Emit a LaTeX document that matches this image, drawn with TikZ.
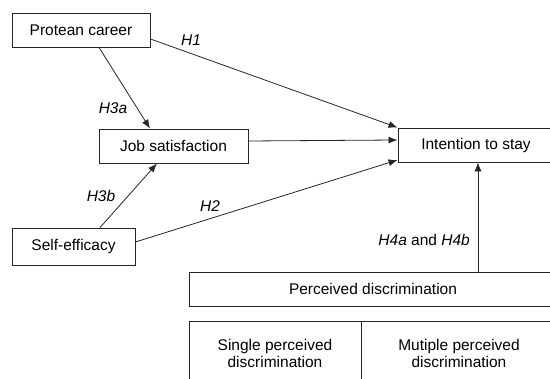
\documentclass[tikz,border=0pt]{standalone}
\usepackage{fontspec}
\setmainfont{Liberation Sans}
\usetikzlibrary{arrows.meta,calc}
\begin{document}
\begin{tikzpicture}[x=1pt,y=-1pt,
  box/.style={draw=black!85,line width=0.9pt,inner sep=0pt,font=\fontsize{15.5}{18}\selectfont,align=center},
  arr/.style={draw=black!85,line width=0.8pt,-{Latex[length=9pt,width=7pt]}},
  lab/.style={font=\fontsize{15.5}{18}\selectfont\itshape,inner sep=0pt}]
\useasboundingbox (0,0) rectangle (550,379);
\node[box,minimum width=138pt,minimum height=34pt] (pc) at (81,30) {Protean career};
\node[box,minimum width=149pt,minimum height=34pt] (js) at (173.5,146) {Job satisfaction};
\node[box,minimum width=156pt,minimum height=34pt] (its) at (476,145) {Intention to stay};
\node[box,minimum width=123pt,minimum height=37pt] (se) at (73.5,246.5) {Self-efficacy};
\node[box,minimum width=368pt,minimum height=34pt] (pd) at (373,289) {Perceived discrimination};
\node[box,minimum width=172pt,minimum height=64pt] (spd) at (275,353) {Single perceived\\[-1pt]discrimination};
\node[box,minimum width=196pt,minimum height=64pt] (mpd) at (459,353) {Mutiple perceived\\[-1pt]discrimination};

\draw[arr] ([xshift=18pt]pc.south) -- ([xshift=-23.5pt]js.north);
\draw[arr] ([yshift=-9pt]pc.east) -- (its.north west);
\draw[arr] ([yshift=5pt]js.east) -- ([yshift=5pt]its.west);
\draw[arr] ([yshift=4.5pt]se.east) -- ([yshift=-15pt]its.west);
\draw[arr] ([xshift=26.5pt]se.north) -- ([xshift=-16.5pt]js.south);
\draw[arr] ([xshift=2pt]its.south |- pd.north) -- ([xshift=2pt]its.south);

\node[lab] (h1) at (191,40) {H1};
\node[lab] (h3a) at (113,108) {H3a};
\node[lab] (h3b) at (101,196) {H3b};
\node[lab] (h2) at (210,206) {H2};
\node[lab,anchor=east] (h4) at (470,240) {H4a \upshape and \itshape H4b};
\end{tikzpicture}
\end{document}
